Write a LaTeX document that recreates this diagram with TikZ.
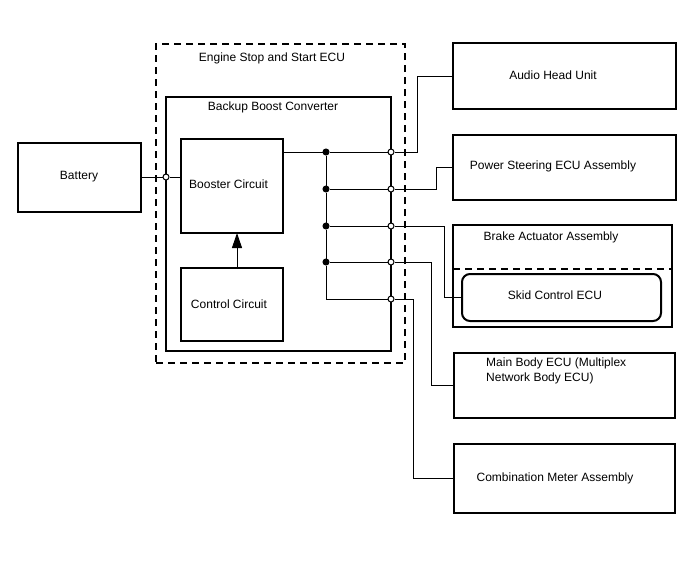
\documentclass[tikz,border=0pt]{standalone}
\usepackage{fontspec}
\setmainfont{Liberation Sans}
\usetikzlibrary{arrows.meta}
\tikzset{
  box/.style={draw, line width=2pt, inner sep=0pt, outer sep=0pt},
  dbox/.style={draw, line width=2pt, dash pattern=on 7pt off 5pt, inner sep=0pt, outer sep=0pt},
  lbl/.style={inner sep=0pt, font=\fontsize{12}{14.5}\selectfont},
  wire/.style={line width=1pt},
  oc/.style={circle, draw, fill=white, line width=1pt, minimum size=6pt, inner sep=0pt},
  fc/.style={circle, draw, fill=black, line width=1pt, minimum size=6pt, inner sep=0pt},
}
\begin{document}
\begin{tikzpicture}[x=1pt,y=-1pt]
\useasboundingbox (0,0) rectangle (688,560);
% boxes
\node[box, minimum width=123pt, minimum height=69pt] (battery) at (79.5,177.5) {};
\node[dbox, minimum width=249pt, minimum height=319pt] (ecu) at (280.5,203.5) {};
\node[box, minimum width=225pt, minimum height=254pt] (bbc) at (278.5,224) {};
\node[box, minimum width=102pt, minimum height=94pt] (booster) at (232,186) {};
\node[box, minimum width=102pt, minimum height=73pt] (control) at (232,304.5) {};
\node[box, minimum width=223pt, minimum height=66pt] (audio) at (564.5,76) {};
\node[box, minimum width=223pt, minimum height=65pt] (power) at (564.5,167.5) {};
\node[box, minimum width=219pt, minimum height=102pt] (brake) at (562.5,276) {};
\node[box, rounded corners=8pt, minimum width=199pt, minimum height=47pt] (skid) at (561.5,297.5) {};
\node[box, minimum width=221pt, minimum height=65pt] (main) at (564.5,385.5) {};
\node[box, minimum width=221pt, minimum height=69pt] (combo) at (564.5,478.5) {};
% texts
\node[lbl] (tbattery) at (79,177) {Battery};
\node[lbl] (tecu) at (272,58) {Engine Stop and Start ECU};
\node[lbl] (tbbc) at (273,107) {Backup Boost Converter};
\node[lbl, anchor=west] (tbooster) at (189,184) {Booster Circuit};
\node[lbl] (tcontrol) at (229,304) {Control Circuit};
\node[lbl] (taudio) at (553,75) {Audio Head Unit};
\node[lbl] (tpower) at (553,166) {Power Steering ECU Assembly};
\node[lbl] (tbrake) at (551,237) {Brake Actuator Assembly};
\node[lbl] (tskid) at (555,295) {Skid Control ECU};
\node[lbl, anchor=north west, align=left] (tmain) at (486,358) {Main Body ECU (Multiplex\\Network Body ECU)};
\node[lbl] (tcombo) at (555,478) {Combination Meter Assembly};
% dashed separator in brake actuator
\coordinate (bdy) at (0,269);
\draw[line width=2pt, dash pattern=on 7pt off 5pt] (brake.west |- bdy) -- (brake.east |- bdy);
% junctions
\node[oc] (p0) at (166,177) {};
\node[fc] (j1) at (326,152) {};
\node[fc] (j2) at (326,189) {};
\node[fc] (j3) at (326,226) {};
\node[fc] (j4) at (326,262) {};
\coordinate (j5) at (326,299);
\node[oc] (o1) at (391,152) {};
\node[oc] (o2) at (391,189) {};
\node[oc] (o3) at (391,226) {};
\node[oc] (o4) at (391,262) {};
\node[oc] (o5) at (391,299) {};
\coordinate (k1) at (417,152);
\coordinate (k2) at (436,189);
\coordinate (k3) at (444,226);
\coordinate (k4) at (431,262);
\coordinate (k5) at (413,299);
% wires
\draw[wire] (battery.east |- p0) -- (p0);
\draw[wire] (p0) -- (booster.west |- p0);
\draw[wire] (booster.east |- j1) -- (j1);
\draw[wire] (j1) -- (j2);
\draw[wire] (j2) -- (j3);
\draw[wire] (j3) -- (j4);
\draw[wire] (j4) -- (j5) -- (o5);
\draw[wire] (j1) -- (o1);
\draw[wire] (j2) -- (o2);
\draw[wire] (j3) -- (o3);
\draw[wire] (j4) -- (o4);
\draw[wire] (o1) -- (k1) |- (audio.west);
\draw[wire] (o2) -- (k2) |- (power.west);
\draw[wire] (o3) -- (k3) |- (skid.west);
\draw[wire] (o4) -- (k4) |- (main.west);
\draw[wire] (o5) -- (k5) |- (combo.west);
% arrow
\draw[wire, -{Triangle[length=15pt,width=10pt]}] ([xshift=5pt]control.north) -- ([xshift=5pt]booster.south);
\end{tikzpicture}
\end{document}
